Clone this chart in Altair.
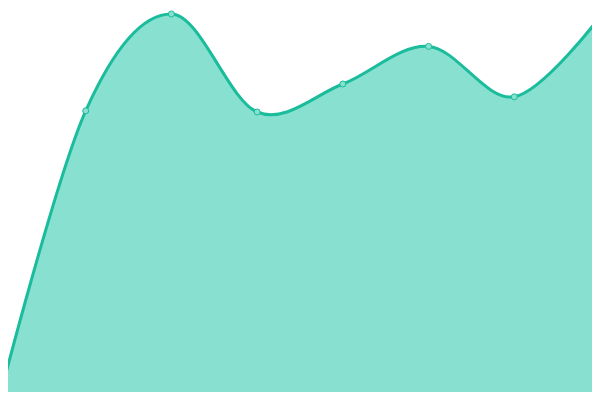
import altair as alt
import pandas as pd

idx = [0, 1, 2, 3, 4, 5, 6, 7]
values = [1, 72.3, 96.5, 72, 79, 88.4, 75.8, 95.8]

df = pd.DataFrame({"i": idx, "v": values})

LINE = "#1abc9c"
FILL = "#88e0d0"

x = alt.X("i:Q", axis=None, scale=alt.Scale(domain=[0, 7], nice=False, zero=False))
y = alt.Y("v:Q", axis=None, scale=alt.Scale(domain=[0, 100], nice=False))

base = alt.Chart(df).encode(x=x, y=y)

area = base.mark_area(interpolate="cardinal", color=FILL, opacity=1)
line = base.mark_line(interpolate="cardinal", color=LINE, strokeWidth=3)
pts = base.mark_point(filled=True, fill=FILL, stroke=LINE, strokeWidth=1, size=36, opacity=1)

chart = (area + line + pts).properties(
    width=600, height=400,
    padding={"left": -8, "top": -8, "right": -8, "bottom": -8},
    autosize=alt.AutoSizeParams(type="none"),
).configure_view(stroke=None)

chart.save("out.html", embed_options={"renderer": "svg", "actions": False})
